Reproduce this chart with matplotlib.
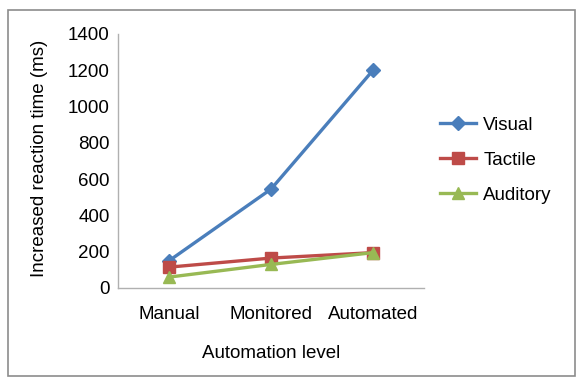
import matplotlib
matplotlib.use("Agg")
import matplotlib.pyplot as plt
from matplotlib.patches import Rectangle

plt.rcParams['font.family'] = ['Liberation Sans', 'DejaVu Sans']

categories = ["Manual", "Monitored", "Automated"]
visual = [150, 545, 1200]
tactile = [115, 165, 195]
auditory = [60, 130, 195]
yticks = [0, 200, 400, 600, 800, 1000, 1200, 1400]

W, H = 581, 387
fig = plt.figure(figsize=(W / 100, H / 100), dpi=100)

# outer frame
fig.patches.append(Rectangle((8 / W, 1 - 376 / H), (575 - 8) / W, (376 - 10) / H,
                             transform=fig.transFigure, fill=False,
                             edgecolor='#8c8c8c', linewidth=1.2))

ax = fig.add_axes([118 / W, 1 - 288 / H, (424 - 118) / W, (288 - 34) / H])
x = range(len(categories))
ax.plot(x, visual, color='#4A7EBB', marker='D', markersize=7, linewidth=2.4, label='Visual')
ax.plot(x, tactile, color='#BE4B48', marker='s', markersize=8, linewidth=2.4, label='Tactile')
ax.plot(x, auditory, color='#98B954', marker='^', markersize=9, linewidth=2.4, label='Auditory')

ax.set_xlim(-0.5, 2.5)
ax.set_ylim(0, 1400)
ax.set_yticks(yticks)
ax.set_xticks(list(x))
ax.set_xticklabels(categories)
ax.tick_params(axis='both', labelsize=13.5, colors='black', length=0, pad=6)
ax.tick_params(axis='x', pad=13)
for s in ['top', 'right']:
    ax.spines[s].set_visible(False)
for s in ['left', 'bottom']:
    ax.spines[s].set_color('#b0b0b0')
    ax.spines[s].set_linewidth(1.0)

fig.text(40 / W, 1 - 158 / H, 'Increased reaction time (ms)', fontsize=13.5,
         rotation=90, ha='center', va='center')
fig.text(271 / W, 1 - 354 / H, 'Automation level', fontsize=13.5, ha='center', va='center')

leg = ax.legend(loc='center left', bbox_to_anchor=(322 / 306, 1 - (160 - 34) / 254), frameon=False,
                fontsize=13.5, handlelength=1.9, labelspacing=0.95, handletextpad=0.4,
                borderpad=0, borderaxespad=0)

fig.savefig('out.png', dpi=100)
